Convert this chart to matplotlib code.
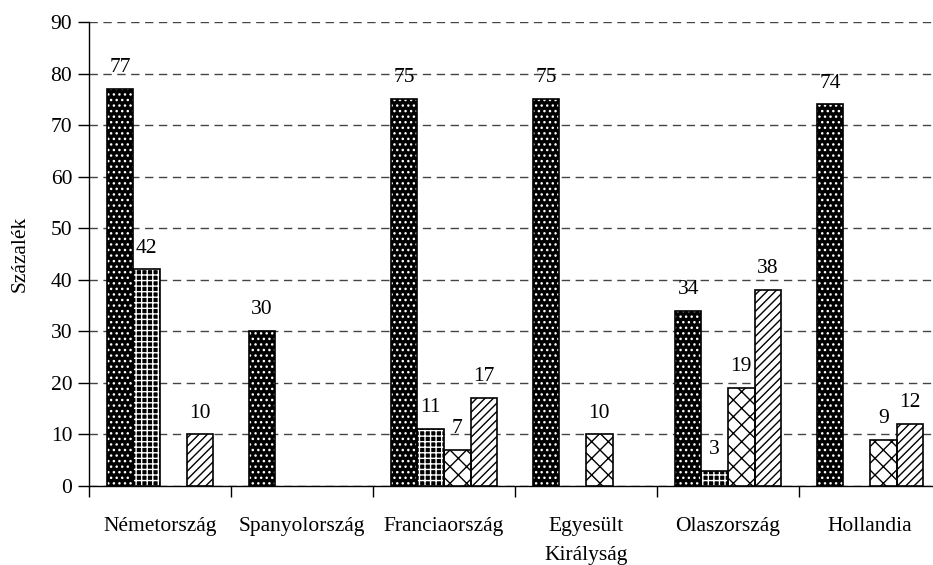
import matplotlib
matplotlib.use("Agg")
import matplotlib.pyplot as plt
import numpy as np

plt.rcParams["font.family"] = ["Liberation Serif", "DejaVu Serif"]
plt.rcParams["hatch.linewidth"] = 1.0

countries = ["Németország", "Spanyolország", "Franciaország",
             "Egyesült\nKirályság", "Olaszország", "Hollandia"]
series1 = [77, 30, 75, 75, 34, 74]
series2 = [42, 0, 11, 0, 3, 0]
series3 = [0, 0, 7, 10, 19, 9]
series4 = [10, 0, 17, 0, 38, 12]
yticks = [0, 10, 20, 30, 40, 50, 60, 70, 80, 90]

all_series = [series1, series2, series3, series4]
# facecolor, hatch colour, hatch
styles = [
    ("black", "white", "..."),
    ("black", "white", "+++"),
    ("white", "black", "xx"),
    ("white", "black", "////"),
]

fs = 15.5

fig = plt.figure(figsize=(9.33, 5.65), dpi=100)
ax = fig.add_axes([89 / 933, 1 - 486 / 565, 852 / 933, 464 / 565])

x = np.arange(len(countries))
width = 0.187
offsets = (np.arange(4) - 1.5) * width

for vals, off, (fc, hc, hatch) in zip(all_series, offsets, styles):
    vals = np.array(vals)
    mask = vals > 0
    xs = x[mask] + off
    ax.bar(xs, vals[mask], width, color=fc, edgecolor=hc, hatch=hatch,
           linewidth=0, zorder=3)
    ax.bar(xs, vals[mask], width, fill=False, edgecolor="black",
           linewidth=1.2, zorder=4)
    for xi, v in zip(xs, vals[mask]):
        ax.text(xi, v + 2.3, str(v), ha="center", va="bottom",
                fontsize=fs, zorder=5)

ax.set_xlim(-0.5, len(countries) - 0.5)
ax.set_ylim(0, 90)
ax.set_yticks(yticks)
ax.set_yticklabels([str(t) for t in yticks], fontsize=fs)
ax.set_xticks(np.arange(len(countries) + 1) - 0.5)
ax.set_xticklabels([])
ax.set_xticks(x, minor=True)
ax.set_xticklabels(countries, minor=True, fontsize=fs, linespacing=1.75)
ax.tick_params(axis="x", which="minor", length=0, pad=22)
ax.tick_params(axis="x", which="major", length=8, width=1, direction="out")
ax.tick_params(axis="y", length=8, width=1, direction="out", pad=4)

ax.yaxis.grid(True, linestyle=(0, (6, 4)), color="#444444", linewidth=1, zorder=0)
ax.set_axisbelow(True)

for s in ["top", "right"]:
    ax.spines[s].set_visible(False)
for s in ["left", "bottom"]:
    ax.spines[s].set_linewidth(1)

ax.set_ylabel("Százalék", fontsize=fs, labelpad=15)

fig.savefig("out.png", dpi=100)
